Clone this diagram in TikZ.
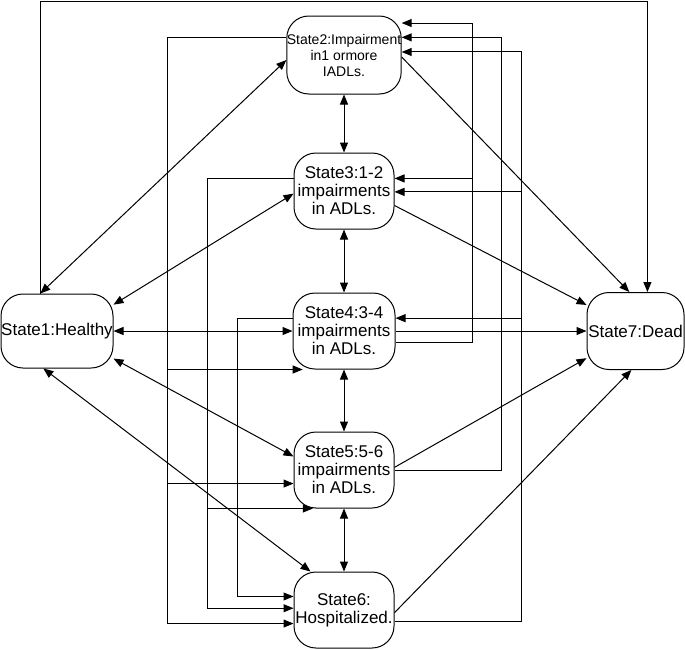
\documentclass[tikz,border=0pt]{standalone}
\usepackage{fontspec}
\setmainfont{Liberation Sans}
\usetikzlibrary{arrows.meta}

\begin{document}
\begin{tikzpicture}[x=0.5pt,y=-0.5pt,line width=0.5pt,
    >={Triangle[length=5pt,width=4pt]},
    statebox/.style={draw,rounded corners=11pt,minimum width=50pt,minimum height=38pt,
        inner sep=0pt,align=center,font=\fontsize{8.5}{9}\selectfont}]
    \useasboundingbox (0,0) rectangle (685,649);

    \node[statebox,minimum width=56pt,minimum height=37pt] (state1) at (57,331) {State1:Healthy};
    \node[statebox,minimum width=52pt,minimum height=39pt,font=\fontsize{7}{8}\selectfont] (state2) at (344,55) {State2:Impairment\\in1 ormore\\IADLs.};
    \node[statebox] (state3) at (344,191) {State3:1-2\\impairments\\in ADLs.};
    \node[statebox,minimum width=51pt] (state4) at (344,331) {State4:3-4\\impairments\\in ADLs.};
    \node[statebox] (state5) at (344,470) {State5:5-6\\impairments\\in ADLs.};
    \node[statebox] (state6) at (344,610) {State6:\\Hospitalized.};
    \node[statebox,minimum width=48.5pt,minimum height=38.5pt] (state7) at (635.5,331) {State7:Dead};

    \coordinate (topline) at (0,1);
    \coordinate (busa) at (167,0);
    \coordinate (busb) at (207,0);
    \coordinate (busc) at (237,0);
    \coordinate (busd) at (472,0);
    \coordinate (buse) at (501,0);
    \coordinate (busf) at (521,0);

    \draw[<->] (state1.114) -- (state2.185);
    \draw[<->] (state1.25) -- (state3.183);
    \draw[<->] (state1.east) -- (state4.west);
    \draw[<->] (state1.334) -- (state5.165);
    \draw[<->] (state1.250) -- (state6.131);

    \draw[<->] (state2) -- (state3);
    \draw[<->] (state3) -- (state4);
    \draw[<->] (state4) -- (state5);
    \draw[<->] (state5) -- (state6);

    \draw[->] (state2.358) -- (state7.99);
    \draw[->] (state3.344) -- (state7.152);
    \draw[->] (state4.east) -- (state7.west);
    \draw[->] (state5.3) -- (state7.209);
    \draw[->] (state6.357) -- (state7.264);
    \draw[->] (state1.114) -- (state1.114 |- topline) -| (state7.73);

    \draw[->] (state2.163) -| (busa |- state6.195) -- (state6.195);
    \draw[->] (busa |- state4.223) -- (state4.223);
    \draw[->] (busa |- state5.195) -- (state5.195);
    \draw[->] (state3.166) -| (busb |- state6.178) -- (state6.178);
    \draw[->] (busb |- state5.231) -- (state5.231);
    \draw[->] (state4.166) -| (busc |- state6.165) -- (state6.165);

    \draw[->] (state4.347) -| (busd |- state2.29) -- (state2.29);
    \draw[->] (busd |- state3.14) -- (state3.14);
    \draw[->] (state5.east) -| (buse |- state2.17) -- (state2.17);
    \draw[->] (state6.347) -| (busf |- state2.3) -- (state2.3);
    \draw[->] (busf |- state3.359) -- (state3.359);
    \draw[->] (busf |- state4.14) -- (state4.14);
\end{tikzpicture}
\end{document}
